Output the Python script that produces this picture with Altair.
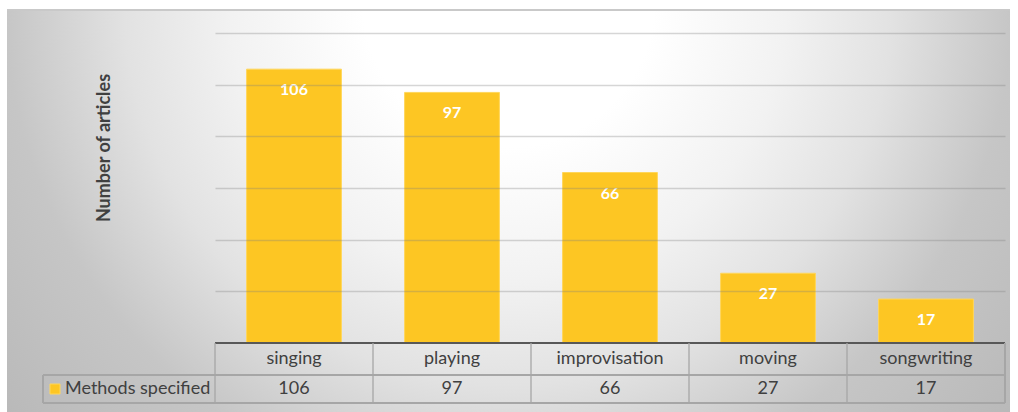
import altair as alt
import pandas as pd

categories = ["singing", "playing", "improvisation", "moving", "songwriting"]
values = [106, 97, 66, 27, 17]
series_name = "Methods specified"
y_title = "Number of articles"

df = pd.DataFrame({"cat": categories, "val": values})

FONT = "Lato"
TXT = "#404040"
LINE = "#a6a6a6"
BAR = "#FDC623"

xsc = alt.Scale(domain=categories, paddingInner=0.4, paddingOuter=0.2)
ysc = alt.Scale(domain=[0, 120], nice=False)

X = alt.X("cat:N", scale=xsc, axis=None, sort=categories)

bg = alt.Chart(df).mark_rect(
    fill=alt.RadialGradient(
        gradient="radial",
        stops=[alt.GradientStop(color="#ffffff", offset=0),
               alt.GradientStop(color="#ffffff", offset=0.22),
               alt.GradientStop(color="#f2f2f2", offset=0.42),
               alt.GradientStop(color="#e2e2e2", offset=0.58),
               alt.GradientStop(color="#c6c6c6", offset=0.76),
               alt.GradientStop(color="#b8b8b8", offset=1)],
        x1=0.5, y1=0.29, x2=0.5, y2=0.29, r1=0, r2=0.66),
).encode(x=alt.value(-208), x2=alt.value(795), y=alt.value(-23), y2=alt.value(381))

topline = alt.Chart(df).mark_rule(color="#c8c8c8", strokeWidth=1.5).encode(
    x=alt.value(-208), x2=alt.value(795), y=alt.value(-23))

bars = alt.Chart(df).mark_bar(color=BAR, stroke="#FFD65A", strokeWidth=1).encode(
    x=X,
    y=alt.Y("val:Q", scale=ysc,
            axis=alt.Axis(labels=False, ticks=False, domain=False, title=None,
                          grid=True, gridColor="#808080", gridOpacity=0.32,
                          gridWidth=1.3, zindex=1,
                          values=[20, 40, 60, 80, 100, 120])),
)

labels = alt.Chart(df).mark_text(font=FONT, fontSize=16, fontWeight="bold", color="white",
                                 baseline="middle", dy=21).encode(
    x=X, y=alt.Y("val:Q", scale=ysc), text="val:Q")

baseline = alt.Chart(df).mark_rule(color="#595959", strokeWidth=1.6).encode(
    x=alt.value(0), x2=alt.value(790), y=alt.value(310))

vlines = alt.Chart(df).mark_rule(color=LINE, strokeWidth=1.3, xOffset=-79).encode(
    x=X, y=alt.value(310), y2=alt.value(370))
vright = alt.Chart(df).mark_rule(color=LINE, strokeWidth=1.3).encode(
    x=alt.value(790), y=alt.value(310), y2=alt.value(370))
hsep = alt.Chart(df).mark_rule(color=LINE, strokeWidth=1.3).encode(
    x=alt.value(-172), x2=alt.value(790), y=alt.value(342))
hbot = alt.Chart(df).mark_rule(color=LINE, strokeWidth=1.3).encode(
    x=alt.value(-172), x2=alt.value(790), y=alt.value(370))
vleft = alt.Chart(df).mark_rule(color=LINE, strokeWidth=1.3).encode(
    x=alt.value(-172), y=alt.value(342), y2=alt.value(370))

cat_text = alt.Chart(df).mark_text(font=FONT, fontSize=18, color=TXT, baseline="middle").encode(
    x=X, y=alt.value(326), text="cat:N")
val_text = alt.Chart(df).mark_text(font=FONT, fontSize=18, color=TXT, baseline="middle").encode(
    x=X, y=alt.value(356), text="val:Q")

legend_df = pd.DataFrame({"s": [series_name]})
swatch = alt.Chart(legend_df).mark_rect(color=BAR, stroke="#FFD65A").encode(
    x=alt.value(-165), x2=alt.value(-155), y=alt.value(351), y2=alt.value(361))
legend_text = alt.Chart(legend_df).mark_text(font=FONT, fontSize=18, color=TXT, align="left",
                                             baseline="middle").encode(
    x=alt.value(-150), y=alt.value(356), text="s:N")

title_df = pd.DataFrame({"t": [y_title]})
ytitle = alt.Chart(title_df).mark_text(font=FONT, fontSize=18, fontWeight="bold", color=TXT,
                                       angle=270, baseline="middle", align="center").encode(
    x=alt.value(-110), y=alt.value(115), text="t:N")

chart = alt.layer(
    bg, topline, bars, labels, baseline, vlines, vright, hsep, hbot, vleft,
    cat_text, val_text, swatch, legend_text, ytitle
).properties(
    width=790, height=310,
    padding={"left": 215, "top": 33, "right": 13, "bottom": 69},
    autosize=alt.AutoSizeParams(type="none"),
    background="white",
).configure_view(stroke=None)

chart.save("out.html", embed_options={"renderer": "svg", "actions": False})
